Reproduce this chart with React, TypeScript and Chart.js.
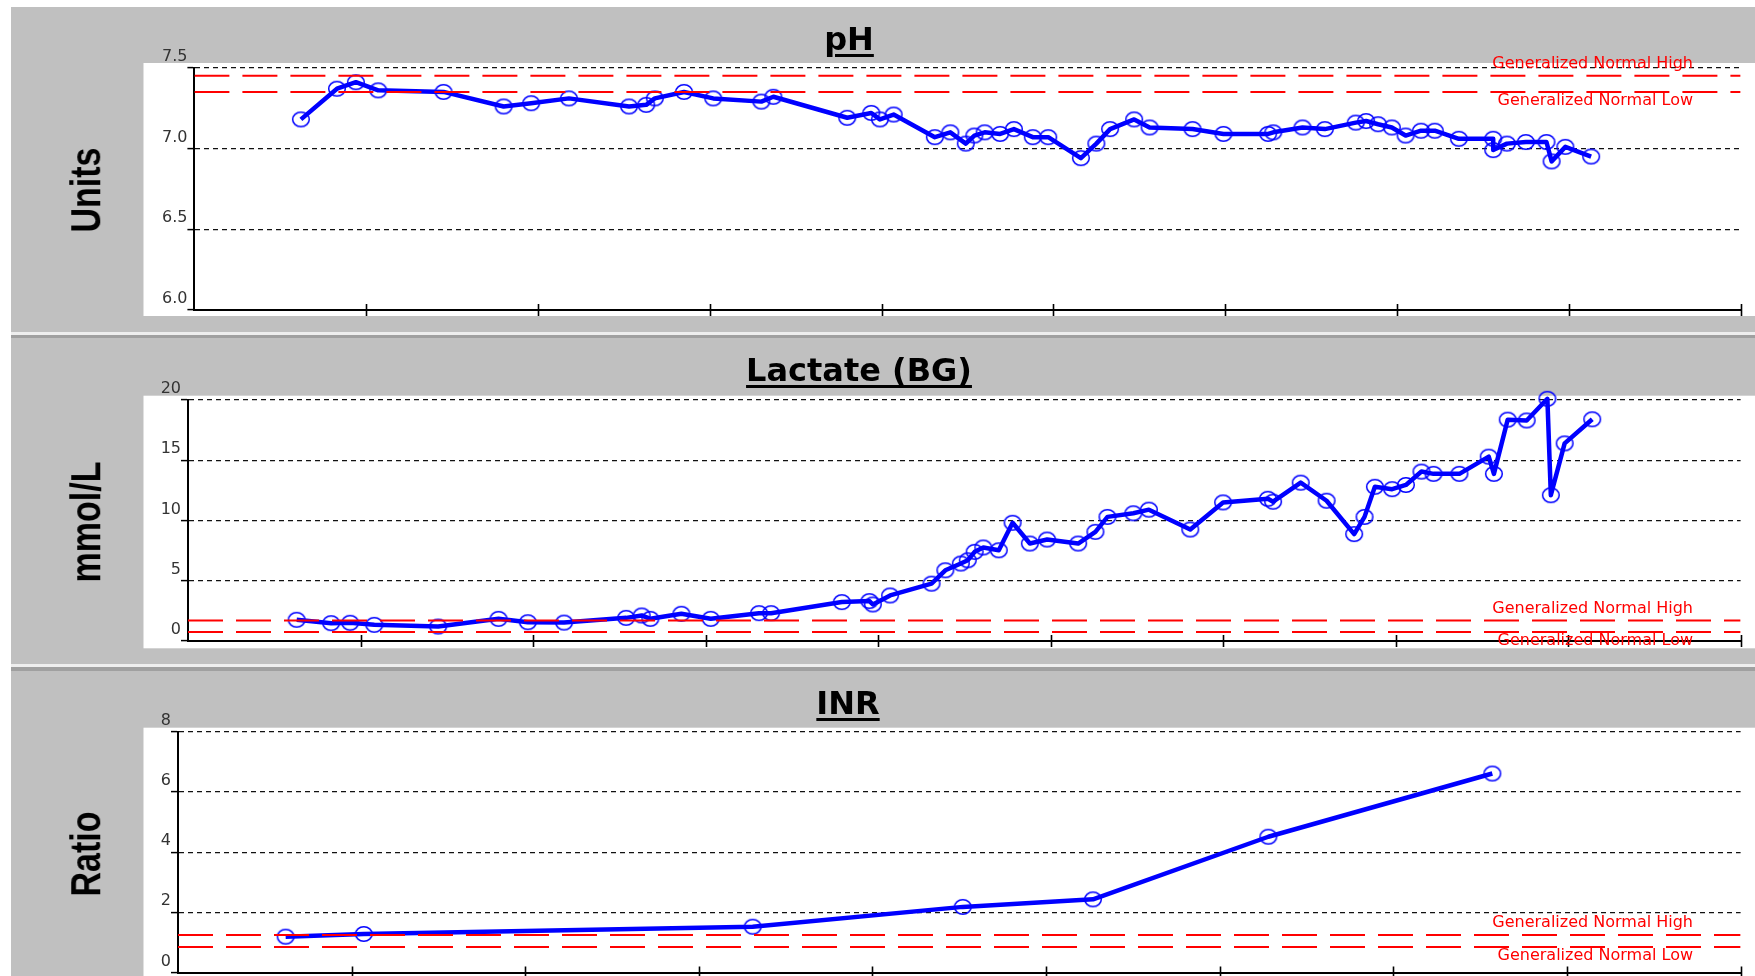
import React, { useEffect, useRef } from "react";
import { Chart, registerables } from "chart.js";

Chart.register(...registerables);

// ---------------- data ----------------
// x = time position along the shared time axis (0..9 major divisions)
const phTimes = [0.62, 0.83, 0.94, 1.07, 1.45, 1.80, 1.96, 2.18, 2.53, 2.63, 2.68, 2.85, 3.02, 3.30, 3.37, 3.80, 3.94, 3.99, 4.07, 4.31, 4.40, 4.49, 4.54, 4.60, 4.69, 4.77, 4.88, 4.97, 5.16, 5.25, 5.33, 5.47, 5.56, 5.81, 5.99, 6.25, 6.28, 6.45, 6.58, 6.76, 6.82, 6.89, 6.97, 7.05, 7.14, 7.22, 7.36, 7.56, 7.56, 7.64, 7.75, 7.87, 7.90, 7.98, 8.13];
const phValues = [7.18, 7.37, 7.41, 7.36, 7.35, 7.26, 7.28, 7.31, 7.26, 7.27, 7.31, 7.35, 7.31, 7.29, 7.32, 7.19, 7.22, 7.18, 7.21, 7.07, 7.10, 7.03, 7.08, 7.10, 7.09, 7.12, 7.07, 7.07, 6.94, 7.03, 7.12, 7.18, 7.13, 7.12, 7.09, 7.09, 7.10, 7.13, 7.12, 7.16, 7.17, 7.15, 7.13, 7.08, 7.11, 7.11, 7.06, 7.06, 6.99, 7.03, 7.04, 7.04, 6.92, 7.01, 6.95];
const phTickLabels = ["6.0", "6.5", "7.0", "7.5"];
const phNormalLow = 7.35;
const phNormalHigh = 7.45;

const lactateTimes = [0.63, 0.83, 0.94, 1.08, 1.45, 1.80, 1.97, 2.18, 2.54, 2.63, 2.68, 2.86, 3.03, 3.31, 3.38, 3.79, 3.95, 3.97, 4.07, 4.31, 4.39, 4.48, 4.52, 4.56, 4.61, 4.70, 4.78, 4.88, 4.98, 5.16, 5.26, 5.33, 5.48, 5.57, 5.81, 6.00, 6.26, 6.29, 6.45, 6.60, 6.76, 6.82, 6.88, 6.98, 7.06, 7.15, 7.22, 7.37, 7.54, 7.57, 7.65, 7.76, 7.88, 7.90, 7.98, 8.14];
const lactateValues = [1.76, 1.48, 1.51, 1.34, 1.2, 1.84, 1.56, 1.53, 1.92, 2.12, 1.84, 2.26, 1.84, 2.31, 2.31, 3.23, 3.31, 3.03, 3.78, 4.76, 5.87, 6.43, 6.7, 7.4, 7.76, 7.53, 9.81, 8.09, 8.42, 8.09, 9.06, 10.3, 10.6, 10.9, 9.25, 11.5, 11.8, 11.56, 13.14, 11.64, 8.87, 10.3, 12.8, 12.6, 12.95, 14.06, 13.87, 13.87, 15.3, 13.87, 18.37, 18.3, 20.1, 12.1, 16.4, 18.4];
const lactateTickLabels = ["0", "5", "10", "15", "20"];
const lactateNormalLow = 0.75;
const lactateNormalHigh = 1.7;

const inrTimes = [0.62, 1.07, 3.31, 4.52, 5.27, 6.28, 7.57];
const inrValues = [1.19, 1.28, 1.52, 2.18, 2.43, 4.51, 6.61];
const inrTickLabels = ["0", "2", "4", "6", "8"];
const inrNormalLow = 0.85;
const inrNormalHigh = 1.25;

const timeMin = 0;
const timeMax = 9;

// ---------------- styling / geometry ----------------
const PAGE_W = 1755;
const PAGE_H = 976;
const PANEL_LEFT = 11;
const WHITE_LEFT = 143.5;
const PLOT_RIGHT = 1740.6;
const Y_AXIS_W = 60;
const LABEL_RIGHT = 1693;
const BLUE = "#0000ff";
const RED = "#ff0000";
const GRAY = "#c0c0c0";

type PanelCfg = {
  title: string;
  unit: string;
  times: number[];
  values: number[];
  tickLabels: string[];
  yMin: number;
  yMax: number;
  yStep: number;
  low: number;
  high: number;
  top: number;
  height: number;
  canvasHeight: number;
  axisX: number;
  plotTop: number;
  plotBottom: number;
  whiteTop: number;
  whiteBottom: number;
  titleX: number;
  unitY: number;
};

const panels: PanelCfg[] = [
  {
    title: "pH", unit: "Units", times: phTimes, values: phValues, tickLabels: phTickLabels,
    yMin: 6, yMax: 7.5, yStep: 0.5, low: phNormalLow, high: phNormalHigh,
    top: 7, height: 325, canvasHeight: 325, axisX: 194.4, plotTop: 67.7, plotBottom: 310,
    whiteTop: 63, whiteBottom: 316, titleX: 849, unitY: 189.5,
  },
  {
    title: "Lactate (BG)", unit: "mmol/L", times: lactateTimes, values: lactateValues, tickLabels: lactateTickLabels,
    yMin: 0, yMax: 20, yStep: 5, low: lactateNormalLow, high: lactateNormalHigh,
    top: 338, height: 326, canvasHeight: 326, axisX: 188, plotTop: 400, plotBottom: 641,
    whiteTop: 395.7, whiteBottom: 648.3, titleX: 859, unitY: 522,
  },
  {
    title: "INR", unit: "Ratio", times: inrTimes, values: inrValues, tickLabels: inrTickLabels,
    yMin: 0, yMax: 8, yStep: 2, low: inrNormalLow, high: inrNormalHigh,
    top: 671, height: 305, canvasHeight: 340, axisX: 178, plotTop: 731.7, plotBottom: 972.5,
    whiteTop: 727.7, whiteBottom: 1011, titleX: 848, unitY: 854,
  },
];

function makeMarker(): HTMLCanvasElement {
  const c = document.createElement("canvas");
  c.width = 20;
  c.height = 18;
  const x = c.getContext("2d")!;
  x.strokeStyle = BLUE;
  x.lineWidth = 1.5;
  x.beginPath();
  x.ellipse(10, 9, 8.3, 7.3, 0, 0, Math.PI * 2);
  x.stroke();
  return c;
}

function PanelChart({ cfg }: { cfg: PanelCfg }) {
  const ref = useRef<HTMLCanvasElement | null>(null);

  useEffect(() => {
    if (!ref.current) return;
    const plotTop = cfg.plotTop - cfg.top;
    const plotBottom = cfg.plotBottom - cfg.top;
    const whiteTop = cfg.whiteTop - cfg.top;
    const whiteBottom = cfg.whiteBottom - cfg.top;
    const marker = makeMarker();

    const deco = {
      id: "panelDeco",
      beforeDraw(chart: any) {
        const ctx = chart.ctx;
        ctx.save();
        ctx.fillStyle = "#ffffff";
        ctx.fillRect(WHITE_LEFT, whiteTop, chart.width - WHITE_LEFT, whiteBottom - whiteTop);
        ctx.restore();
      },
      afterDraw(chart: any) {
        const ctx = chart.ctx;
        const xs = chart.scales.x;
        const ys = chart.scales.y;
        const bottom = chart.chartArea.bottom;
        ctx.save();
        ctx.strokeStyle = "#000";
        ctx.lineWidth = 1.6;
        xs.ticks.forEach((_t: any, i: number) => {
          if (i === 0) return;
          const px = Math.round(xs.getPixelForTick(i)) + 0.5;
          ctx.beginPath();
          ctx.moveTo(px, bottom - 6);
          ctx.lineTo(px, bottom + 6);
          ctx.stroke();
        });
        ctx.font = '16px "DejaVu Sans", sans-serif';
        ctx.fillStyle = RED;
        ctx.textAlign = "right";
        ctx.textBaseline = "middle";
        ctx.fillText("Generalized Normal High", LABEL_RIGHT, ys.getPixelForValue(cfg.high) - 12);
        ctx.fillText("Generalized Normal Low", LABEL_RIGHT, ys.getPixelForValue(cfg.low) + 9);
        ctx.restore();
      },
    };

    const chart = new Chart(ref.current, {
      type: "line",
      data: {
        datasets: [
          {
            label: "Generalized Normal High",
            data: [{ x: timeMin, y: cfg.high }, { x: timeMax, y: cfg.high }],
            borderColor: RED,
            borderWidth: 2,
            borderDash: [35, 13],
            pointRadius: 0,
            fill: false,
          },
          {
            label: "Generalized Normal Low",
            data: [{ x: timeMin, y: cfg.low }, { x: timeMax, y: cfg.low }],
            borderColor: RED,
            borderWidth: 2,
            borderDash: [35, 13],
            pointRadius: 0,
            fill: false,
          },
          {
            label: cfg.title,
            data: cfg.times.map((t, i) => ({ x: t, y: cfg.values[i] })),
            borderColor: BLUE,
            borderWidth: 4.5,
            borderJoinStyle: "round",
            pointStyle: marker,
            pointRadius: 8,
            pointBorderWidth: 1.5,
            pointBorderColor: BLUE,
            pointBackgroundColor: "rgba(0,0,0,0)",
            tension: 0,
            fill: false,
            clip: false as any,
          },
        ],
      } as any,
      options: {
        responsive: false,
        animation: false,
        devicePixelRatio: 1,
        events: [],
        layout: {
          padding: {
            left: cfg.axisX - Y_AXIS_W,
            right: PAGE_W - PLOT_RIGHT,
            top: plotTop,
            bottom: cfg.canvasHeight - plotBottom,
          },
        },
        plugins: {
          legend: { display: false },
          tooltip: { enabled: false },
          title: { display: false },
        },
        scales: {
          x: {
            type: "linear",
            min: timeMin,
            max: timeMax,
            ticks: { display: false, stepSize: 1 },
            grid: { display: false },
            border: { display: true, color: "#000", width: 2 },
            afterFit: (s: any) => {
              s.height = 0;
            },
          },
          y: {
            type: "linear",
            min: cfg.yMin,
            max: cfg.yMax,
            ticks: {
              stepSize: cfg.yStep,
              padding: 0,
              labelOffset: -11,
              color: "#333333",
              font: { family: '"DejaVu Sans", sans-serif', size: 16 },
              callback: (_v: any, i: number) => cfg.tickLabels[i] ?? "",
            },
            grid: {
              color: "#111",
              lineWidth: 1.2,
              drawTicks: true,
              tickLength: 7,
              tickColor: "#000",
              tickWidth: 1.5,
            },
            border: { display: true, color: "#000", width: 2, dash: [5, 4] },
            afterFit: (s: any) => {
              s.width = Y_AXIS_W;
            },
          },
        },
      } as any,
      plugins: [deco],
    });
    return () => chart.destroy();
  }, [cfg]);

  return (
    <canvas
      ref={ref}
      width={PAGE_W}
      height={cfg.canvasHeight}
      style={{ position: "absolute", left: 0, top: cfg.top, width: PAGE_W, height: cfg.canvasHeight }}
    />
  );
}

function Panel({ cfg }: { cfg: PanelCfg }) {
  return (
    <>
      <div
        style={{
          position: "absolute",
          left: PANEL_LEFT,
          top: cfg.top,
          width: PAGE_W - PANEL_LEFT,
          height: cfg.height,
          background: GRAY,
        }}
      />
      <PanelChart cfg={cfg} />
      <div
        style={{
          position: "absolute",
          left: cfg.titleX,
          top: cfg.top + 16,
          transform: "translateX(-50%)",
          font: 'bold 32px "DejaVu Sans", sans-serif',
          lineHeight: "32px",
          color: "#000",
          whiteSpace: "nowrap",
          textDecoration: "underline",
          textDecorationThickness: "3px",
          textUnderlineOffset: "4px",
        }}
      >
        {cfg.title}
      </div>
      <div
        style={{
          position: "absolute",
          left: 85,
          top: cfg.unitY,
          width: 0,
          height: 0,
          transformOrigin: "0 0",
          transform: "scaleX(1.25) rotate(-90deg)",
        }}
      >
        <span
          style={{
            position: "absolute",
            left: 0,
            top: 0,
            transform: "translate(-50%, -50%)",
            font: 'bold 34px "Liberation Sans", Arial, sans-serif',
            lineHeight: "34px",
            color: "#000",
            whiteSpace: "nowrap",
          }}
        >
          {cfg.unit}
        </span>
      </div>
    </>
  );
}

export default function App() {
  return (
    <div
      style={{
        position: "fixed",
        left: 0,
        top: 0,
        width: PAGE_W,
        height: PAGE_H,
        background: "#fff",
        overflow: "hidden",
      }}
    >
      {panels.map((p) => (
        <Panel key={p.title} cfg={p} />
      ))}
      {/* separators between panels */}
      <div style={{ position: "absolute", left: PANEL_LEFT, top: 332, width: PAGE_W - PANEL_LEFT, height: 3, background: "#eeeeee" }} />
      <div style={{ position: "absolute", left: PANEL_LEFT, top: 335, width: PAGE_W - PANEL_LEFT, height: 3, background: "#a0a0a0" }} />
      <div style={{ position: "absolute", left: PANEL_LEFT, top: 664, width: PAGE_W - PANEL_LEFT, height: 3, background: "#eeeeee" }} />
      <div style={{ position: "absolute", left: PANEL_LEFT, top: 667, width: PAGE_W - PANEL_LEFT, height: 4, background: "#a0a0a0" }} />
    </div>
  );
}
